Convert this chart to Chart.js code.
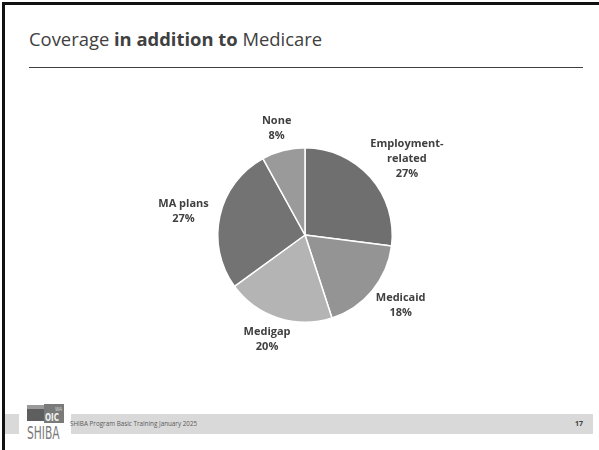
<!DOCTYPE html>
<html>
<head>
<meta charset="utf-8">
<script src="https://cdn.jsdelivr.net/npm/chart.js@4.4.1/dist/chart.umd.min.js"></script>
<style>
  html, body { margin: 0; padding: 0; background: #fff; }
  #slide { position: relative; width: 599px; height: 450px; overflow: hidden; font-family: "Open Sans", "Noto Sans", sans-serif; }
  #borderTop { position: absolute; left: 2px; top: 2px; width: 597px; height: 3px; background: #111; }
  #borderLeft { position: absolute; left: 2px; top: 2px; width: 3px; height: 448px; background: #111; }
  #title { position: absolute; left: 29px; top: 26px; font-size: 18.4px; color: #404040; white-space: nowrap; }
  #title b { font-weight: 700; }
  #rule { position: absolute; left: 29px; top: 67px; width: 554px; height: 1px; background: #404040; }
  #chartBox { position: absolute; left: 130px; top: 110px; width: 350px; height: 250px; }
  #footerBand { position: absolute; left: 5px; top: 414px; width: 588px; height: 20px; background: #d9d9d9; }
  #logo { position: absolute; left: 19px; top: 398px; width: 52px; height: 52px; background: #fff; overflow: hidden; }
  #logoBlock { position: absolute; left: 8px; top: 11px; width: 17px; height: 12px; background: #5e5e5e; }
  #logoTop { position: absolute; left: 8px; top: 7px; width: 17px; height: 4px; background: #9a9a9a; }
  #logoMark { position: absolute; left: 25px; top: 6px; width: 20px; height: 19px; background: #7a7a7a; }
  .cond { position: absolute; font-family: "DejaVu Sans Condensed", "DejaVu Sans", sans-serif; transform-origin: 0 0; white-space: nowrap; }
  #logoWA { left: 36px; top: 7px; font-size: 6px; line-height: 7px; color: #d0d0d0; transform: scaleX(0.8); }
  #logoOIC { left: 26px; top: 14px; font-size: 11px; line-height: 11px; font-weight: 700; color: #f2f2f2; transform: scaleX(0.72); }
  #logoSHIBA { left: 8px; top: 25px; font-size: 18px; line-height: 20px; color: #7a7a7a; transform: scaleX(0.66); }
  #footText { position: absolute; left: 70px; top: 419px; font-size: 6.3px; color: #595959; white-space: nowrap; }
  #pageNo { position: absolute; left: 575px; top: 419px; font-size: 7px; font-weight: 700; color: #404040; }
</style>
</head>
<body>
<div id="slide">
  <div id="borderTop"></div>
  <div id="borderLeft"></div>
  <div id="title">Coverage <b>in addition to</b> Medicare</div>
  <div id="rule"></div>
  <div id="chartBox"><canvas id="pieChart" width="350" height="250"></canvas></div>
  <div id="footerBand"></div>
  <div id="logo">
    <div id="logoTop"></div>
    <div id="logoBlock"></div>
    <div id="logoMark"></div>
    <div id="logoWA" class="cond">WA</div>
    <div id="logoOIC" class="cond">OIC</div>
    <div id="logoSHIBA" class="cond">SHIBA</div>
  </div>
  <div id="footText">SHIBA Program Basic Training January 2025</div>
  <div id="pageNo">17</div>
</div>
<script>
// Slice data, clockwise from 12 o'clock
var categories = ['Employment-\nrelated', 'Medicaid', 'Medigap', 'MA plans', 'None'];
var shares = [27, 18, 20, 27, 8];
var sliceColors = ['#6f6f6f', '#949494', '#b4b4b4', '#737373', '#9a9a9a'];

// Draw labels outside each slice (like Excel "outside end")
var outsideLabels = {
  id: 'outsideLabels',
  afterDatasetsDraw: function (chart) {
    var ctx = chart.ctx;
    var arcs = chart.getDatasetMeta(0).data;
    ctx.save();
    ctx.font = 'bold 11px "Open Sans", "Noto Sans", sans-serif';
    ctx.fillStyle = '#404040';
    ctx.textAlign = 'center';
    ctx.textBaseline = 'middle';
    var lineH = 15;
    arcs.forEach(function (arc, i) {
      var p = arc.getProps(['x', 'y', 'startAngle', 'endAngle', 'outerRadius'], true);
      var mid = (p.startAngle + p.endAngle) / 2;
      var lines = categories[i].split('\n').concat([shares[i] + '%']);
      var w = 0;
      lines.forEach(function (l) { w = Math.max(w, ctx.measureText(l).width); });
      var h = lines.length * lineH;
      var cx = Math.cos(mid), cy = Math.sin(mid);
      var gap = 12;
      var ax = p.x + (p.outerRadius + gap) * cx;
      var ay = p.y + (p.outerRadius + gap) * cy;
      var bx = ax + cx * w / 2;
      var by = ay + cy * h / 2 * 0.7;
      lines.forEach(function (l, k) {
        ctx.fillText(l, bx, by - h / 2 + lineH / 2 + k * lineH);
      });
    });
    ctx.restore();
  }
};

new Chart(document.getElementById('pieChart').getContext('2d'), {
  type: 'pie',
  data: {
    labels: categories,
    datasets: [{
      data: shares,
      backgroundColor: sliceColors,
      borderColor: '#ffffff',
      borderWidth: 1.5
    }]
  },
  options: {
    responsive: false,
    animation: false,
    layout: { padding: { left: 87, right: 87, top: 37, bottom: 37 } },
    plugins: {
      legend: { display: false },
      tooltip: { enabled: false }
    }
  },
  plugins: [outsideLabels]
});
</script>
</body>
</html>
